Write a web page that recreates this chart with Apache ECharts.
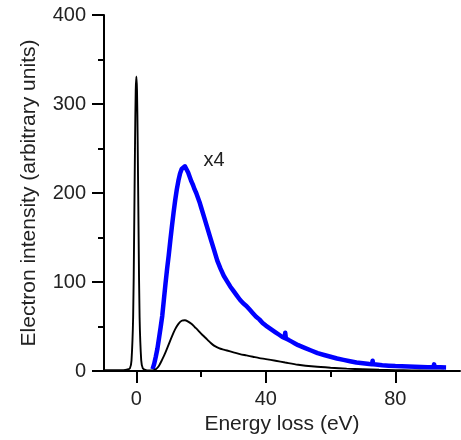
<!DOCTYPE html>
<html>
<head>
<meta charset="utf-8">
<script src="https://cdn.jsdelivr.net/npm/echarts@6/dist/echarts.min.js"></script>
<style>
html,body{margin:0;padding:0;background:#fff;}
#c{width:461px;height:440px;}
</style>
</head>
<body>
<div id="c"></div>
<script>
// Black spectrum: elastic peak + energy-loss region
const blackE = [-10, -6, -4, -3, -2, -1.5, -1, -0.7, -0.4, -0.2, 0, 0.2, 0.4, 0.7, 1, 1.5, 2, 3, 4, 5,
  6, 7, 8, 9, 10, 11, 12, 13, 14, 15, 16, 17, 18, 19, 20, 21, 22, 23, 24, 25, 26, 27, 28, 30, 32, 34, 36, 38, 40,
  43, 46, 50, 55, 60, 65, 70, 75, 80, 85, 90, 95];
const blackI = [0.8, 0.8, 1, 1.5, 3, 12, 60, 150, 260, 315, 331, 315, 260, 150, 60, 12, 3, 1, 0.6, 0.5,
  2, 6, 13, 21, 30, 39, 47, 53, 56.5, 57, 55.5, 53, 49.5, 46, 42, 38.5, 35, 31.5, 28.5, 26.5, 25, 24, 23, 21, 19, 17.5, 16, 14.5, 13.4,
  11.5, 9.5, 7, 5, 3.7, 2.7, 2, 1.4, 1, 0.6, 0.4, 0.3];

// Blue spectrum: loss region scaled x4
const blueE = [5, 5.5, 6, 6.5, 7, 7.5, 8, 8.5, 9, 9.5, 10, 10.5, 11, 11.5, 12, 12.5, 13, 13.5, 14, 14.5, 15, 15.5, 16, 16.5, 17,
  17.5, 18, 18.5, 19, 19.5, 20, 21, 22, 23, 24, 25, 26, 27, 28, 29, 30, 31, 32, 33, 34, 35, 36, 37, 38, 39, 40, 41, 42, 43, 44, 45, 45.8, 46, 46.2, 47, 48, 49, 50,
  52, 54, 56, 58, 60, 62, 64, 66, 68, 70, 72, 72.8, 73, 73.2, 74, 76, 78, 80, 82, 84, 86, 88, 90, 91.8, 92, 92.2, 94, 95.7];
const blueI = [2, 8, 16, 25, 37, 49, 62, 80, 98, 115, 130, 147, 163, 178, 192, 204, 214, 222, 227, 229, 230, 228, 223, 218, 213,
  209, 204, 200, 195, 190, 184, 172, 160, 148, 136, 124, 115, 107, 101, 95, 90, 85, 80, 76, 73, 69, 65, 61, 58, 54, 51, 48.5, 46, 43.5, 41, 38.5, 37, 43, 36.5, 35, 33, 31, 29,
  26, 23, 20, 18, 16, 14, 12.5, 11, 9.5, 8.6, 7.8, 7.6, 11.5, 7.5, 7.2, 6.5, 6, 5.5, 5.2, 5, 4.8, 4.5, 4.3, 4.2, 7.5, 4.2, 4.1, 4];

const xLabelValues = [0, 40, 80];
const xMinorValues = [20, 60];
const annotation = { text: 'x4', E: 24, I: 237 };

const font = "'Liberation Sans', Arial, sans-serif";
const textColor = '#222';

const chart = echarts.init(document.getElementById('c'), null, { renderer: 'canvas' });
chart.setOption({
  animation: false,
  backgroundColor: '#fff',
  grid: { left: 104, right: 1, top: 15, bottom: 68, containLabel: false },
  xAxis: [
    {
      type: 'value', min: -10, max: 100, position: 'bottom',
      name: 'Energy loss (eV)', nameLocation: 'middle', nameGap: 43,
      nameTextStyle: { fontSize: 21, color: textColor, fontFamily: font },
      axisLine: { show: true, onZero: false, lineStyle: { color: '#000', width: 2 } },
      axisTick: { show: true, customValues: xMinorValues, length: 6, lineStyle: { color: '#000', width: 2 } },
      axisLabel: { show: true, customValues: xLabelValues, margin: 18, fontSize: 20, color: textColor, fontFamily: font },
      splitLine: { show: false }
    },
    {
      type: 'value', min: -10, max: 100, position: 'bottom',
      axisLine: { show: false, onZero: false },
      axisTick: { show: true, customValues: xLabelValues, length: 12, lineStyle: { color: '#000', width: 2 } },
      axisLabel: { show: false },
      splitLine: { show: false }
    }
  ],
  yAxis: {
    type: 'value', min: 0, max: 400, interval: 100, position: 'left',
    name: 'Electron intensity (arbitrary units)', nameLocation: 'middle', nameGap: 64,
    nameTextStyle: { fontSize: 21, color: textColor, fontFamily: font },
    axisLine: { show: true, onZero: false, lineStyle: { color: '#000', width: 2 } },
    axisTick: { show: true, length: 12, lineStyle: { color: '#000', width: 2 } },
    minorTick: { show: true, splitNumber: 2, length: 6, lineStyle: { color: '#000', width: 2 } },
    axisLabel: { margin: 18, fontSize: 20, color: textColor, fontFamily: font },
    splitLine: { show: false }
  },
  series: [
    {
      type: 'line', name: 'spectrum', xAxisIndex: 0,
      data: blackE.map((e, i) => [e, blackI[i]]),
      showSymbol: false, symbol: 'none', smooth: 0.3,
      lineStyle: { color: '#000', width: 1.9 }, z: 3
    },
    {
      type: 'line', name: 'x4', xAxisIndex: 0,
      data: blueE.map((e, i) => [e, blueI[i]]),
      showSymbol: false, symbol: 'none', smooth: false,
      lineStyle: { color: '#0000ff', width: 4.5, join: 'round' }, z: 2,
      markPoint: {
        symbol: 'rect', symbolSize: 1, itemStyle: { color: 'rgba(0,0,0,0)' },
        label: { show: true, position: 'inside', formatter: annotation.text, fontSize: 20, color: textColor, fontFamily: font },
        data: [{ coord: [annotation.E, annotation.I] }]
      }
    }
  ]
});
</script>
</body>
</html>
